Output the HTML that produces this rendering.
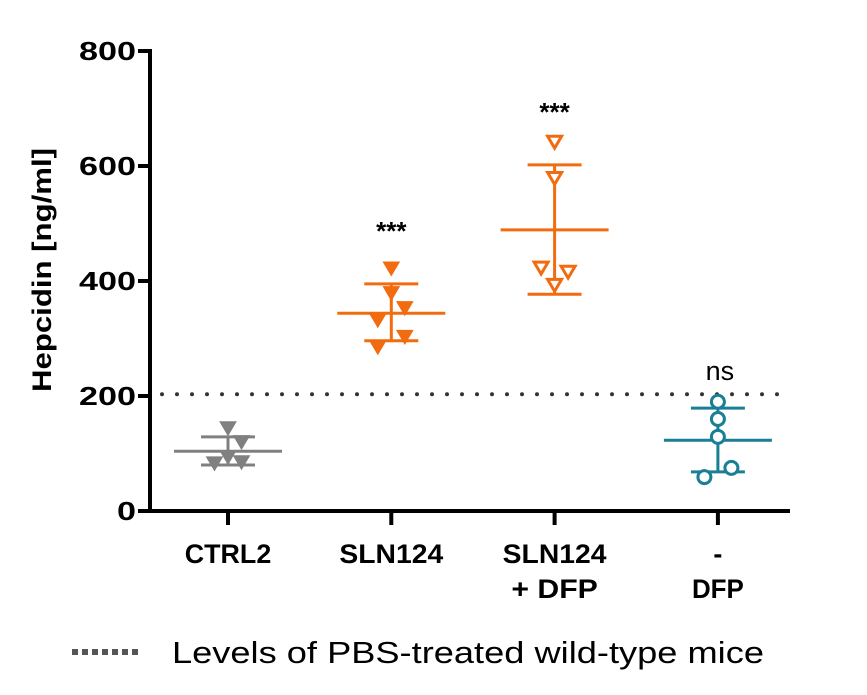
<!DOCTYPE html>
<html><head><meta charset="utf-8"><style>
body{margin:0;background:#fff;}
svg{display:block;font-family:"Liberation Sans",Arial,sans-serif;}
</style></head><body>
<svg id="chart" width="867" height="695" viewBox="0 0 867 695" xmlns="http://www.w3.org/2000/svg">
<g id="axes"></g>
<g id="marks"></g>
<g>
<line x1="72" y1="652" x2="142" y2="652" stroke="#555" stroke-width="6" stroke-dasharray="6,4"/>
<text x="172" y="663" font-size="31" fill="#000" textLength="592" lengthAdjust="spacingAndGlyphs">Levels of PBS-treated  wild-type mice</text>
</g>
</svg>
<script>
const categories = ["CTRL2","SLN124","SLN124\n+ DFP","-\nDFP"];
const colors = ["#808080","#f26b0f","#f26b0f","#1a7f95"];
const markers = ["tri-fill","tri-fill","tri-open","circle-open"];
const pointValues = [
  [144,120,94,83,85],
  [422,379,353,332,303,285],
  [642,579,423,416,393],
  [190,160,129,75,59]
];
const pointOffsets = [
  [0,1,0,-1,1],
  [0,0,1,-1,1,-1],
  [0,0,-1,1,0],
  [0,0,0,1,-1]
];
const means = [104,344,489,123];
const sdUpper = [129,395,602,179];
const sdLower = [80,296,377,68];
const annotations = ["","***","***","ns"];
const yTicks = [0,200,400,600,800];
const refLevel = 203;

const NS="http://www.w3.org/2000/svg";
const y0=511, yTop=51, vMax=800;
function yScale(v){return y0-(v/vMax)*(y0-yTop);}
const xCenters0=228, xStep=163.3;
function xScale(i){return xCenters0+i*xStep;}
function mk(tag,attrs,parent){const e=document.createElementNS(NS,tag);for(const k in attrs)e.setAttribute(k,attrs[k]);parent.appendChild(e);return e;}
const axes=document.getElementById('axes'), marks=document.getElementById('marks');

let yl=mk('line',{x1:150,y1:yTop-2,x2:150,y2:y0+2,stroke:'#000','stroke-width':4},axes);


let xl=mk('line',{x1:148,y1:y0,x2:790,y2:y0,stroke:'#000','stroke-width':4},axes);


yTicks.forEach(t=>{
  const y=yScale(t);
  let tk=mk('line',{x1:138,y1:y,x2:150,y2:y,stroke:'#000','stroke-width':4},axes);
  
  
  const s=String(t);
  let tl=mk('text',{x:136,y:y+9,'text-anchor':'end','font-size':26,'font-weight':'bold',textLength:s.length*19,lengthAdjust:'spacingAndGlyphs'},axes);
  tl.textContent=t;
  
  
});
let yt=mk('text',{x:0,y:0,'text-anchor':'middle','font-size':27,'font-weight':'bold',textLength:244,lengthAdjust:'spacingAndGlyphs',transform:'translate(51,270) rotate(-90)'},axes);
yt.textContent='Hepcidin [ng/ml]';



categories.forEach((c,i)=>{
  const x=xScale(i);
  let tk=mk('line',{x1:x,y1:y0,x2:x,y2:y0+14,stroke:'#000','stroke-width':4},axes);
  
  
  c.split('\n').forEach((ln,j)=>{
    const attrs={x:x,y:563+j*35,'text-anchor':'middle','font-size':27,'font-weight':'bold'};
    if(ln.length>1){attrs.textLength=ln.length*17.3;attrs.lengthAdjust='spacingAndGlyphs';}
    let t=mk('text',attrs,axes);
    t.textContent=ln;
    
    
  });
});

let rl=mk('line',{x1:162,y1:yScale(refLevel),x2:790,y2:yScale(refLevel),stroke:'#333','stroke-width':4,'stroke-dasharray':'0,15','stroke-linecap':'round'},marks);



categories.forEach((c,i)=>{
  const x=xScale(i), col=colors[i];
  const g=mk('g',{},marks);
  
  
  let v=mk('line',{x1:x,y1:yScale(sdUpper[i]),x2:x,y2:yScale(sdLower[i]),stroke:col,'stroke-width':3},g);
  
  
  [sdUpper[i],sdLower[i]].forEach(s=>{
    let h=mk('line',{x1:x-27,y1:yScale(s),x2:x+27,y2:yScale(s),stroke:col,'stroke-width':3},g);
    
    
  });
  let m=mk('line',{x1:x-54,y1:yScale(means[i]),x2:x+54,y2:yScale(means[i]),stroke:col,'stroke-width':3},g);
  
  
  pointValues[i].forEach((pv,k)=>{
    const px=x+pointOffsets[i][k]*13.5, py=yScale(pv);
    let p;
    if(markers[i]==='circle-open'){
      p=mk('circle',{cx:px,cy:py,r:6.5,fill:'#fff',stroke:col,'stroke-width':3},g);
    }else{
      const open=markers[i]==='tri-open';
      const s=open?7:8;
      p=mk('polygon',{points:`${px-s},${py-s*0.8} ${px+s},${py-s*0.8} ${px},${py+s*0.9}`,fill:open?'#fff':col,stroke:col,'stroke-width':open?3:1},g);
    }
    
    
  });
  if(annotations[i]){
    const isNs=annotations[i]==='ns';
    let a=mk('text',{x:x+(isNs?2:0),y:isNs?yScale(sdUpper[i])-28:yScale(sdUpper[i])-44,'text-anchor':'middle','font-size':isNs?27:26,'font-weight':isNs?'normal':'bold'},g);
    a.textContent=annotations[i];
    
    
  }
});
</script>
</body></html>
